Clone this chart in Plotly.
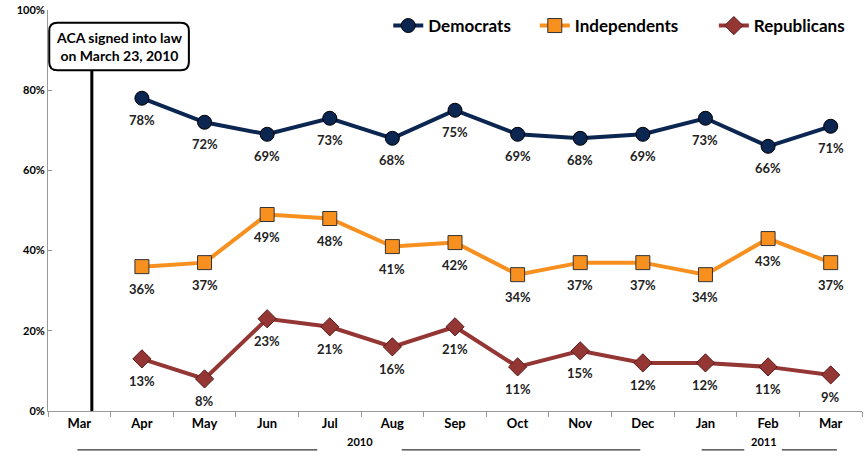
import plotly.graph_objects as go

months = ["Mar", "Apr", "May", "Jun", "Jul", "Aug", "Sep", "Oct", "Nov", "Dec", "Jan", "Feb", "Mar"]
pos = list(range(len(months)))
democrats = [None, 78, 72, 69, 73, 68, 75, 69, 68, 69, 73, 66, 71]
independents = [None, 36, 37, 49, 48, 41, 42, 34, 37, 37, 34, 43, 37]
republicans = [None, 13, 8, 23, 21, 16, 21, 11, 15, 12, 12, 11, 9]
y_ticks = [0, 20, 40, 60, 80, 100]

font = "Lato"

fig = go.Figure()


def add_series(name, vals, color, symbol, border, legend):
    fig.add_trace(go.Scatter(
        x=pos, y=vals, name=name, mode="lines+markers", legend=legend, showlegend=True,
        line=dict(color=color, width=4),
        marker=dict(symbol=symbol, size=14, color=color, line=dict(color=border, width=1)),
        hovertemplate=name + ": %{y}%<extra></extra>",
    ))
    for x, v in zip(pos, vals):
        if v is None:
            continue
        fig.add_annotation(x=x, y=v, xref="x", yref="y", text=f"{v}%", showarrow=False,
                           yshift=-22, font=dict(family=font, size=13, color="#222222", weight="bold"))


add_series("Democrats", democrats, "#0b2651", "circle", "#000000", "legend")
add_series("Independents", independents, "#f7901e", "square", "#333333", "legend2")
add_series("Republicans", republicans, "#943634", "diamond", "#5a1a18", "legend3")

# vertical line for ACA signing (Mar 23, 2010)
fig.add_shape(type="line", x0=0.2, x1=0.2, y0=0, y1=85, xref="x", yref="y",
              line=dict(color="black", width=3))

# rounded box
x0, x1, y0, y1 = -0.48, 1.75, 85, 96.8
rx, ry = 0.13, 2.0
path = (f"M {x0+rx},{y0} L {x1-rx},{y0} Q {x1},{y0} {x1},{y0+ry} "
        f"L {x1},{y1-ry} Q {x1},{y1} {x1-rx},{y1} L {x0+rx},{y1} "
        f"Q {x0},{y1} {x0},{y1-ry} L {x0},{y0+ry} Q {x0},{y0} {x0+rx},{y0} Z")
fig.add_shape(type="path", path=path, xref="x", yref="y",
              line=dict(color="black", width=2), fillcolor="white")
fig.add_annotation(x=(x0 + x1) / 2, y=(y0 + y1) / 2, xref="x", yref="y",
                   text="ACA signed into law<br>on March 23, 2010", showarrow=False,
                   font=dict(family=font, size=14, color="black", weight="bold"))

# year labels with lines
for xa, xb, yr, xc, xd, xt in [(-0.03, 3.8, "2010", 5.15, 8.96, 4.48),
                                (9.94, 10.62, "2011", 11.22, 12.1, 10.94)]:
    fig.add_shape(type="line", x0=xa, x1=xb, y0=-0.097, y1=-0.097, xref="x", yref="paper",
                  line=dict(color="black", width=1))
    fig.add_shape(type="line", x0=xc, x1=xd, y0=-0.097, y1=-0.097, xref="x", yref="paper",
                  line=dict(color="black", width=1))
    fig.add_annotation(x=xt, y=-0.097, xref="x", yref="paper", text=yr, showarrow=False,
                       font=dict(family=font, size=11, color="black", weight="bold"))

fig.update_xaxes(
    range=[-0.5, 12.5], tickvals=pos, ticktext=months, ticks="", automargin=False,
    showline=True, linecolor="#999999", linewidth=1, showgrid=False, zeroline=False,
    tickfont=dict(family=font, size=13, color="black", weight="bold"),
    minor=dict(tick0=0.5, dtick=1, ticks="outside", ticklen=5, tickcolor="#999999"),
)
fig.update_yaxes(
    range=[0, 100], tickvals=y_ticks, ticktext=[f"{v}%" for v in y_ticks],
    ticks="inside", ticklen=4, tickcolor="#999999", automargin=False,
    showline=True, linecolor="#999999", linewidth=1, showgrid=False, zeroline=False,
    tickfont=dict(family=font, size=11, color="black", weight="bold"),
)

legend_style = dict(orientation="h", y=1.005, xanchor="left", yanchor="top",
                    font=dict(family=font, size=17, color="black", weight="bold"),
                    itemwidth=30, bgcolor="rgba(0,0,0,0)", visible=True)

fig.update_layout(
    width=868, height=459, showlegend=True,
    margin=dict(l=48, r=6, t=10, b=48),
    plot_bgcolor="white", paper_bgcolor="white",
    legend=dict(x=0.418, **legend_style),
    legend2=dict(x=0.598, **legend_style),
    legend3=dict(x=0.818, **legend_style),
)

fig.write_html("out.html", config={"displayModeBar": False},
               post_script="document.body.style.margin='0';")
